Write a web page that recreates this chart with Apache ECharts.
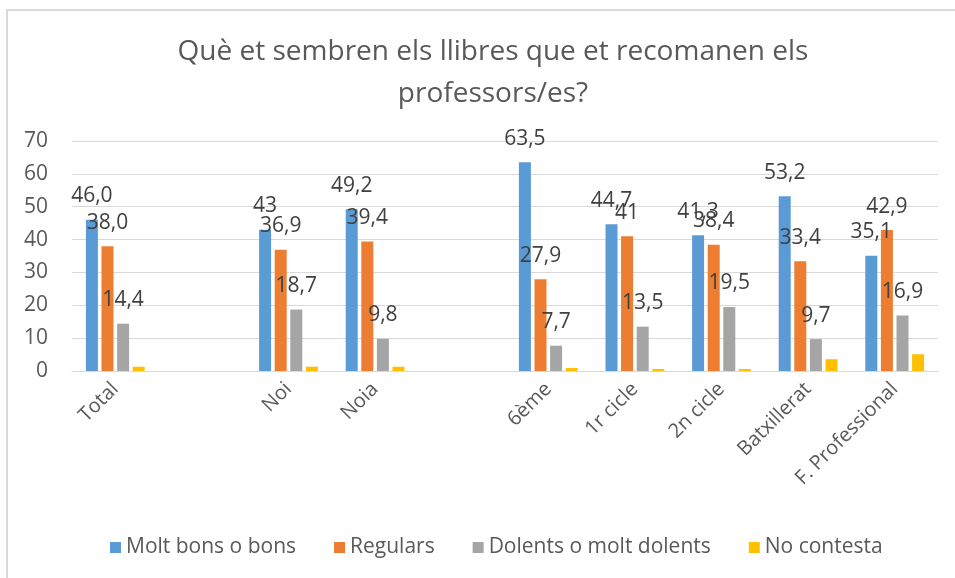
<!DOCTYPE html>
<html>
<head>
<meta charset="utf-8">
<script src="https://cdn.jsdelivr.net/npm/echarts@6/dist/echarts.min.js"></script>
<style>
  html, body { margin: 0; padding: 0; background: #fff; }
  #frame { position: absolute; left: 6px; top: 9px; width: 960px; height: 580px;
           border-top: 2px solid #d9d9d9; border-left: 2px solid #d9d9d9; box-sizing: border-box; }
  #chart { position: absolute; left: 0; top: 0; width: 955px; height: 578px; }
</style>
</head>
<body>
<div id="frame"></div>
<div id="chart"></div>
<script>
// Groups, with empty slots separating Total / gender / level
const categories = ['Total', '', 'Noi', 'Noia', '', '6ème', '1r cicle', '2n cicle', 'Batxillerat', 'F. Professional'];
const seriesNames = ['Molt bons o bons', 'Regulars', 'Dolents o molt dolents', 'No contesta'];
const moltBons   = [46.0, null, 43,   49.2, null, 63.5, 44.7, 41.3, 53.2, 35.1];
const regulars   = [38.0, null, 36.9, 39.4, null, 27.9, 41,   38.4, 33.4, 42.9];
const dolents    = [14.4, null, 18.7, 9.8,  null, 7.7,  13.5, 19.5, 9.7,  16.9];
const noContesta = [1.3,  null, 1.3,  1.3,  null, 0.9,  0.6,  0.6,  3.6,  5.1];
// Label text as printed on each bar
const moltBonsText = ['46,0', '', '43', '49,2', '', '63,5', '44,7', '41,3', '53,2', '35,1'];
const regularsText = ['38,0', '', '36,9', '39,4', '', '27,9', '41', '38,4', '33,4', '42,9'];
const dolentsText  = ['14,4', '', '18,7', '9,8', '', '7,7', '13,5', '19,5', '9,7', '16,9'];
const yTicks = [0, 10, 20, 30, 40, 50, 60, 70];
const colors = ['#5b9bd5', '#ed7d31', '#a5a5a5', '#ffc000'];

const FONT = 'Open Sans';
const chart = echarts.init(document.getElementById('chart'), null, { renderer: 'canvas' });

function labelled(texts) {
  return {
    show: true, position: 'top', distance: 13,
    color: '#404040', fontFamily: FONT, fontSize: 21,
    formatter: p => texts[p.dataIndex]
  };
}

chart.setOption({
  animation: false,
  color: colors,
  title: {
    text: 'Què et sembren els llibres que et recomanen els\nprofessors/es?',
    left: 488, textAlign: 'center', top: 26,
    textStyle: { fontFamily: FONT, fontSize: 28, fontWeight: 'normal', color: '#595959', lineHeight: 42 }
  },
  legend: {
    bottom: 15, left: 105,
    itemWidth: 11, itemHeight: 11, itemGap: 38,
    icon: 'rect',
    textStyle: { fontFamily: FONT, fontSize: 21, color: '#595959' },
    data: seriesNames
  },
  grid: { left: 72, right: 17, top: 141, bottom: 207 },
  xAxis: {
    type: 'category', data: categories,
    axisLine: { lineStyle: { color: '#d9d9d9', width: 1 } },
    axisTick: { show: false },
    axisLabel: { rotate: 45, margin: 15, interval: 0, fontFamily: FONT, fontSize: 20, color: '#595959' }
  },
  yAxis: {
    type: 'value', min: yTicks[0], max: yTicks[yTicks.length - 1], interval: 10,
    axisLine: { show: false }, axisTick: { show: false },
    splitLine: { lineStyle: { color: '#d9d9d9', width: 1 } },
    axisLabel: { margin: 24, fontFamily: FONT, fontSize: 21, color: '#595959' }
  },
  series: [
    { name: seriesNames[0], type: 'bar', data: moltBons, barWidth: 12, barGap: '30%', barCategoryGap: '30%', label: labelled(moltBonsText) },
    { name: seriesNames[1], type: 'bar', data: regulars, barWidth: 12, barGap: '30%', label: labelled(regularsText) },
    { name: seriesNames[2], type: 'bar', data: dolents, barWidth: 12, barGap: '30%', label: labelled(dolentsText) },
    { name: seriesNames[3], type: 'bar', data: noContesta, barWidth: 12, barGap: '30%' }
  ]
});
</script>
</body>
</html>
